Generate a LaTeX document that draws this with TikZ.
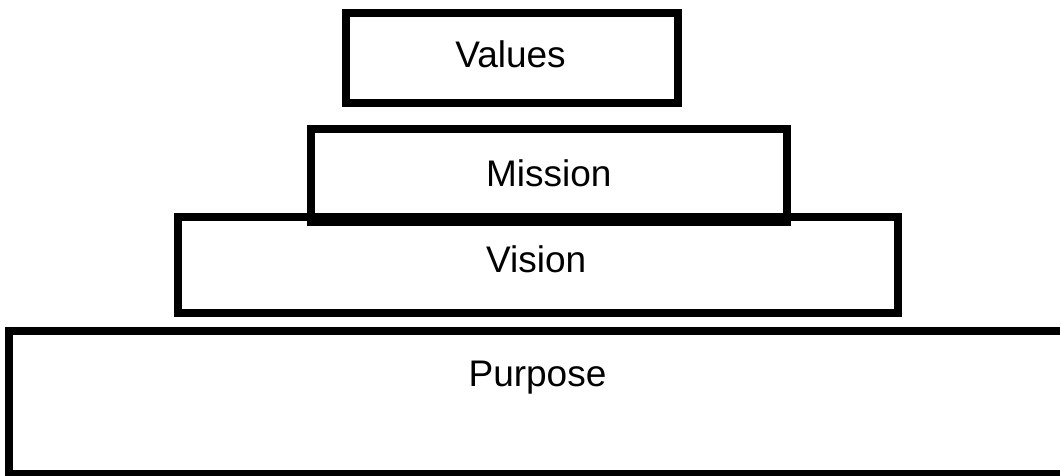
\documentclass[tikz,border=0pt]{standalone}
\usepackage{fontspec}
\setmainfont{Liberation Sans}
\begin{document}
\begin{tikzpicture}[x=1pt,y=-1pt,
  tier/.style={draw=black, line width=8pt, rectangle, inner sep=0pt, outer sep=0pt},
  lbl/.style={anchor=base, inner sep=0pt, font=\fontsize{37}{44}\selectfont}]
\useasboundingbox (0,0) rectangle (1060,475);
\clip (0,0) rectangle (1060,475);
\node[tier, minimum width=332pt, minimum height=90.5pt] (values) at (512,57.75) {};
\node[tier, minimum width=476pt, minimum height=93pt] (mission) at (549,175.5) {};
\node[tier, minimum width=720pt, minimum height=96pt] (vision) at (537.5,264.5) {};
\node[tier, minimum width=1100pt, minimum height=143pt] (purpose) at (559,402.5) {};
\node[lbl] (tvalues) at (510.5,67.3) {Values};
\node[lbl] (tmission) at (548.8,186.7) {Mission};
\node[lbl] (tvision) at (536.2,272.7) {Vision};
\node[lbl] (tpurpose) at (537.5,386.7) {Purpose};
\end{tikzpicture}
\end{document}
